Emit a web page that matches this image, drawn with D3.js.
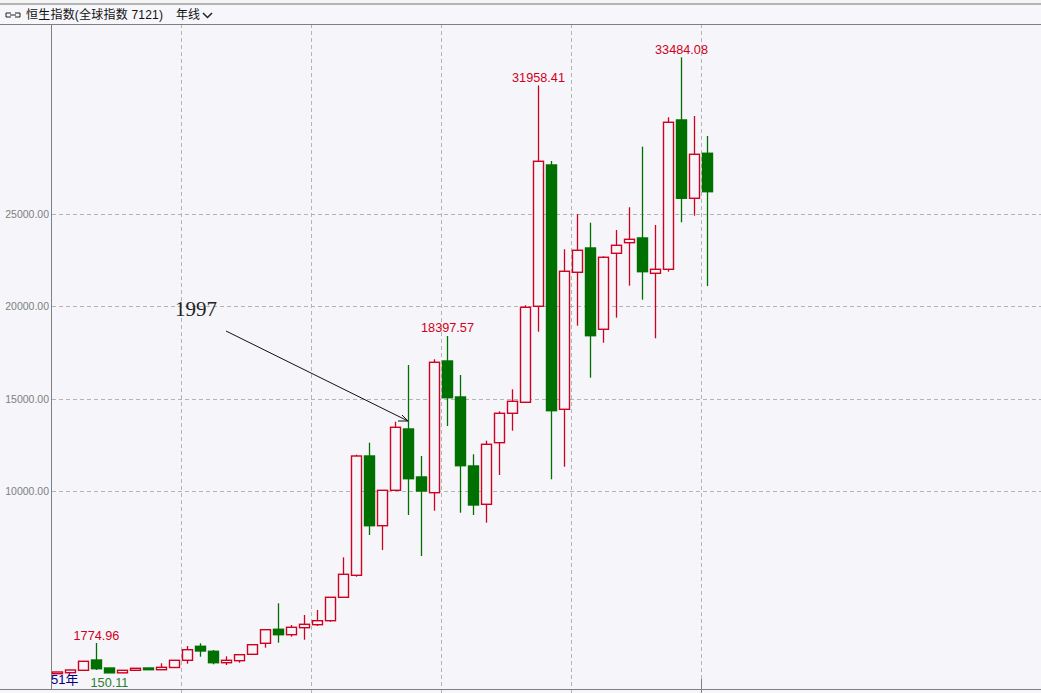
<!DOCTYPE html>
<html>
<head>
<meta charset="utf-8">
<script src="https://cdn.jsdelivr.net/npm/d3@7"></script>
<style>
html, body { margin: 0; padding: 0; background: #f5f5fa; overflow: hidden; }
text { font-family: "Liberation Sans", "Noto Sans CJK SC", sans-serif; }
</style>
</head>
<body>
<svg id="chart" width="1041" height="693" style="display:block"></svg>
<script>
// yearly candles 1970..2020
const years = d3.range(1970, 2021);
const opens = [114,168,298,855,422,160,298,422,330,450,839,1597,1326,709,818,1164,1760,2518,2225,2604,2767,2983,4250,5441,11900,8126,10043,13362,10763,9913,17043,15094,11359,9285,12620,14212,14807,20005,27655,14428,21845,23161,18760,22874,23448,23703,21791,22008,30091,25852,28288];
const highs = [206,330,790,1774.96,422,298,410,425,677,845,1613,1760,1397,1056,1150,1690,2500,3925,2750,3292,3562,4260,6416,11970,12620,10060,13757,16827,11900,17135,18397.57,16285,11992,12728,14320,15511,20059,31958.41,27871,23091,25002,24531,22712,24136,25365,28645,24406,30237,33484.08,30307,29225];
const lows = [114,160,298,314,150.11,160,298,330,314,450,655,1034,623,585,709,1160,1521,1792,2117,1954,2696,2929,4250,5365,7623,6811,10020,8706,6486,8939,13524,8830,8706,8289,10871,13270,14780,18630,10639,11321,18954,16139,18034,19388,21120,20362,18272,21878,24552,24910,21104];
const closes = [206,314,785,384,160,298,406,330,460,839,1413,1343,709,839,1142,1684,2496,2225,2626,2788,2983,4250,5495,11900,8126,10043,13454,10671,10005,16973,15056,11375,9247,12533,14212,14861,19951,27855,14353,21900,23037,18413,22658,23307,23632,21878,22008,29966,25852,28234,26209];
const yTicks = [10000, 15000, 20000, 25000];
const peakLabels = [1774.96, 18397.57, 31958.41, 33484.08];

const red = "#d00020", green = "#007000", gridCol = "#b4b4b4";
const svg = d3.select("#chart");

const x = d3.scaleBand().domain(years).range([51, 51 + 13 * years.length]);
const y = d3.scaleLinear().domain([0, 33484.08]).range([675.8, 57.3]);

// top band
svg.append("rect").attr("y", 0).attr("width", 1041).attr("height", 3).attr("fill", "#f4f4f4");
svg.append("rect").attr("y", 3).attr("width", 1041).attr("height", 2).attr("fill", "#b4b4b4");
svg.append("rect").attr("y", 5).attr("width", 1041).attr("height", 19).attr("fill", "#f7f7fb");

// grid
const gridG = svg.append("g").attr("stroke", gridCol).attr("stroke-dasharray", "4,3").attr("shape-rendering", "crispEdges");
gridG.selectAll("line.h").data(yTicks).enter().append("line")
    .attr("x1", 52).attr("x2", 1041)
    .attr("y1", d => Math.round(y(d)) + 0.5).attr("y2", d => Math.round(y(d)) + 0.5);
gridG.selectAll("line.v").data(years.filter(d => (d - 1970) % 10 === 0 && d > 1970)).enter().append("line")
    .attr("x1", d => x(d) + 0.5).attr("x2", d => x(d) + 0.5)
    .attr("y1", 24).attr("y2", 693);

// frame
svg.append("line").attr("x1", 0).attr("x2", 1041).attr("y1", 24.5).attr("y2", 24.5).attr("stroke", "#808080");
svg.append("line").attr("x1", 0).attr("x2", 1041).attr("y1", 689.5).attr("y2", 689.5).attr("stroke", "#808080");
svg.append("line").attr("x1", 51.5).attr("x2", 51.5).attr("y1", 24).attr("y2", 689).attr("stroke", "#808080");
svg.append("line").attr("x1", x(2020) + 0.5).attr("x2", x(2020) + 0.5).attr("y1", 679).attr("y2", 693).attr("stroke", "#808080");

// y tick labels
svg.selectAll("text.tick").data(yTicks).enter().append("text")
    .attr("class", "tick").attr("x", 49).attr("y", d => y(d) + 4)
    .attr("text-anchor", "end").attr("font-size", 10.5).attr("fill", "#808080")
    .text(d => d3.format(".2f")(d));

// candles
const candles = svg.selectAll("g.candle").data(years).enter().append("g").attr("class", "candle");
const cx = d => Math.floor(x(d) + x.bandwidth() / 2) + 0.5;
const isUp = (d, i) => closes[i] >= opens[i];

candles.append("line")
    .attr("x1", cx).attr("x2", cx)
    .attr("y1", (d, i) => y(highs[i])).attr("y2", (d, i) => y(lows[i]))
    .attr("stroke", (d, i) => isUp(d, i) ? red : green).attr("stroke-width", 1.3);

candles.append("rect")
    .attr("x", d => cx(d) - 5)
    .attr("width", 10)
    .attr("y", (d, i) => y(Math.max(opens[i], closes[i])))
    .attr("height", (d, i) => Math.abs(y(opens[i]) - y(closes[i])))
    .attr("fill", (d, i) => isUp(d, i) ? "#f5f5fa" : green)
    .attr("stroke", (d, i) => isUp(d, i) ? red : green)
    .attr("stroke-width", 1.4);

// peak labels
svg.selectAll("text.peak").data(peakLabels).enter().append("text")
    .attr("class", "peak")
    .attr("x", d => cx(years[highs.indexOf(d)]))
    .attr("y", d => y(d) - 3.5)
    .attr("text-anchor", "middle").attr("font-size", 12.7).attr("fill", red)
    .text(d => d3.format(".2f")(d));

svg.append("text").attr("x", cx(1974)).attr("y", 687).attr("text-anchor", "middle")
    .attr("font-size", 12.7).attr("fill", "#2e7d32").text("150.11");

// count label
svg.append("text").attr("x", 51).attr("y", 684).attr("font-size", 13).attr("fill", "#000080").text("51年");

// title
svg.append("text").attr("x", 26).attr("y", 19).attr("font-size", 12).attr("fill", "#111")
    .attr("textLength", 137).attr("lengthAdjust", "spacing").text("恒生指数(全球指数 7121)");
svg.append("text").attr("x", 176).attr("y", 19).attr("font-size", 12).attr("fill", "#111").text("年线");
// link icon and dropdown chevron
svg.append("path").attr("d", "M11,13H6V17H11M10,15H16M15,13H20V17H15").attr("fill", "none").attr("stroke", "#222");
svg.append("path").attr("d", "M203,13L207.5,17.5L212,13").attr("fill", "none").attr("stroke", "#222").attr("stroke-width", 1.5);

// annotation
svg.append("text").attr("x", 175).attr("y", 316).attr("style", "font-family:'Liberation Serif'").attr("font-size", 21).attr("fill", "#222").text("1997");
svg.append("path").attr("d", "M226,331L408,421M398,421H408L402,415").attr("fill", "none").attr("stroke", "#111");
</script>
</body>
</html>
